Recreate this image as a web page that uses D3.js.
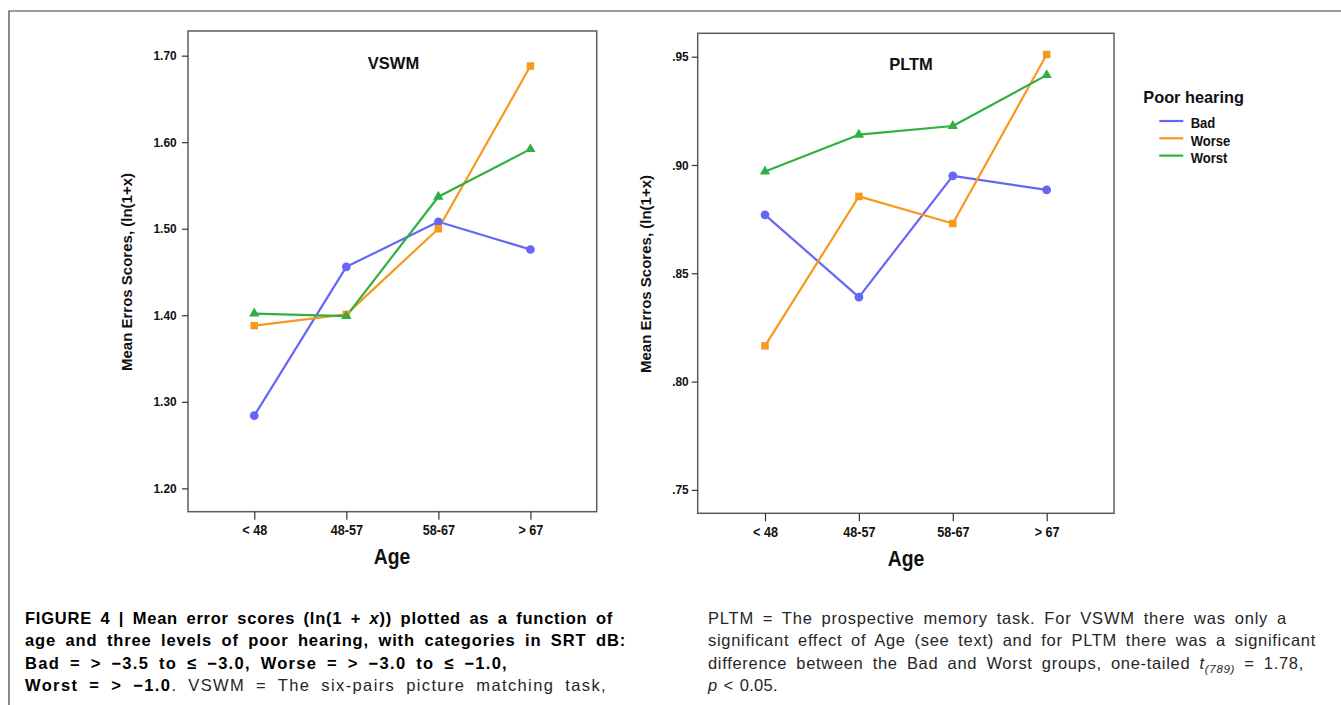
<!DOCTYPE html>
<html><head><meta charset="utf-8">
<script src="https://cdn.jsdelivr.net/npm/d3@7"></script>
<style>
body{margin:0;background:#fff}
svg{display:block}
text{font-family:"Liberation Sans",Arial,Helvetica,sans-serif}
</style>
</head><body>
<script>
// ---------- data ----------
const ageGroups = ["< 48", "48-57", "58-67", "> 67"];
const hearingGroups = ["Bad", "Worse", "Worst"];
const groupColors = ["#6666f6", "#f7981f", "#30b040"];
const groupSymbols = ["circle", "square", "triangle"];

const vswmBad   = [1.284, 1.456, 1.508, 1.476];
const vswmWorse = [1.388, 1.401, 1.500, 1.688];
const vswmWorst = [1.402, 1.399, 1.537, 1.592];

const pltmBad   = [0.877, 0.839, 0.895, 0.8885];
const pltmWorse = [0.8165, 0.8855, 0.873, 0.951];
const pltmWorst = [0.897, 0.914, 0.918, 0.9415];

const vswmTicks = [1.20, 1.30, 1.40, 1.50, 1.60, 1.70];
const pltmTicks = [0.75, 0.80, 0.85, 0.90, 0.95];

const yAxisTitle = "Mean Erros Scores, (ln(1+x)";
const xAxisTitle = "Age";
const legendTitle = "Poor hearing";

// ---------- page ----------
const W = 1341, H = 705;
const svg = d3.select("body").append("svg").attr("width", W).attr("height", H);

// outer figure border (top + left)
svg.append("path").attr("d", `M9,${H}V11H${W}`).attr("fill", "none")
  .attr("stroke", "#3a3a3a").attr("stroke-width", 1.2);

const symMap = {circle: d3.symbolCircle, square: d3.symbolSquare, triangle: d3.symbolTriangle};
const symSize = {circle: 60, square: 56, triangle: 46};

function ctext(g, x, y, str, o) {
  return g.append("text")
    .attr("transform", `translate(${x},${y}) scale(${o.sx || 1},1)`)
    .attr("text-anchor", o.anchor || "middle")
    .style("font-size", o.size + "px")
    .style("font-weight", o.weight || "bold")
    .attr("fill", o.fill || "#111")
    .text(str);
}

function panel(cfg) {
  const g = svg.append("g");
  const x = d3.scalePoint().domain(ageGroups).range(cfg.xRange).padding(cfg.pad);
  const y = d3.scaleLinear().domain(cfg.yDomain).range(cfg.yRange);
  const [x0, x1] = cfg.xRange, [y0, y1] = cfg.yRange;

  // frame
  g.append("rect").attr("x", x0).attr("y", y1).attr("width", x1 - x0).attr("height", y0 - y1)
    .attr("fill", "#fff").attr("stroke", "#5c5c5c").attr("stroke-width", 1.5);

  // y axis
  const ya = g.append("g").attr("transform", `translate(${x0},0)`)
    .call(d3.axisLeft(y).tickValues(cfg.ticks).tickFormat(cfg.fmt).tickSize(6).tickPadding(cfg.yPad));
  ya.select(".domain").remove();
  ya.selectAll(".tick line").attr("stroke", "#333").attr("stroke-width", 1.2);
  ya.selectAll(".tick text").style("font-size", "12.5px").style("font-weight", "bold")
    .style("font-family", '"Liberation Sans",Arial,sans-serif').attr("fill", "#111")
    .attr("transform", "scale(0.95,1)");

  // x axis
  const xa = g.append("g").attr("transform", `translate(0,${y0})`)
    .call(d3.axisBottom(x).tickSize(8).tickPadding(5));
  xa.select(".domain").remove();
  xa.selectAll(".tick line").attr("stroke", "#333").attr("stroke-width", 1.2);
  xa.selectAll(".tick text").style("font-size", "14.5px").style("font-weight", "bold")
    .style("font-family", '"Liberation Sans",Arial,sans-serif').attr("fill", "#111")
    .attr("transform", "scale(0.87,1)");

  // series
  const line = d3.line().x((d, i) => x(ageGroups[i])).y(d => y(d));
  cfg.series.forEach((vals, k) => {
    g.append("path").datum(vals).attr("d", line).attr("fill", "none")
      .attr("stroke", groupColors[k]).attr("stroke-width", 2.2).attr("stroke-linejoin", "round");
  });
  cfg.series.forEach((vals, k) => {
    const s = groupSymbols[k];
    g.selectAll(null).data(vals).join("path")
      .attr("transform", (d, i) => `translate(${x(ageGroups[i])},${y(d)})`)
      .attr("d", d3.symbol(symMap[s], symSize[s])())
      .attr("fill", groupColors[k]);
  });

  // titles
  ctext(g, cfg.titlePos[0], cfg.titlePos[1], cfg.title, {size: 16.5});
  ctext(g, cfg.agePos[0], cfg.agePos[1], xAxisTitle, {size: 21.5, sx: 0.9});
  g.append("text")
    .attr("transform", `translate(${cfg.yLabPos[0]},${cfg.yLabPos[1]}) rotate(-90)`)
    .attr("text-anchor", "middle").style("font-size", "15px").style("font-weight", "bold")
    .attr("fill", "#111").text(yAxisTitle);
}

const fmtL = d3.format(".2f");
const fmtR = v => d3.format(".2f")(v).replace(/^0/, "");

panel({
  xRange: [188, 596.7], pad: 0.72, yDomain: [1.1730, 1.7285], yRange: [511.7, 31],
  ticks: vswmTicks, fmt: fmtL, yPad: 6,
  series: [vswmBad, vswmWorse, vswmWorst],
  title: "VSWM", titlePos: [393.5, 68.5], agePos: [392, 564], yLabPos: [131.5, 272]
});
panel({
  xRange: [697.7, 1114], pad: 0.717, yDomain: [0.7392, 0.9608], yRange: [513.3, 33.3],
  ticks: pltmTicks, fmt: fmtR, yPad: 3.5,
  series: [pltmBad, pltmWorse, pltmWorst],
  title: "PLTM", titlePos: [911, 70], agePos: [906, 566], yLabPos: [651, 274]
});

// legend
const lg = svg.append("g");
ctext(lg, 1143.3, 103.3, legendTitle, {size: 17, anchor: "start", sx: 0.96});
hearingGroups.forEach((name, k) => {
  const yy = 121 + k * 17.3;
  lg.append("line").attr("x1", 1159.3).attr("x2", 1183.3).attr("y1", yy).attr("y2", yy)
    .attr("stroke", groupColors[k]).attr("stroke-width", 2.2);
  ctext(lg, 1190.7, yy + 7.3, name, {size: 14.5, anchor: "start", sx: 0.9});
});

// ---------- caption ----------
const captionLeft = [
  [{t: "FIGURE 4 | Mean error scores (ln(1 + ", b: 1}, {t: "x", b: 1, i: 1}, {t: ")) plotted as a function of", b: 1}],
  [{t: "age and three levels of poor hearing, with categories in SRT dB:", b: 1}],
  [{t: "Bad = > \u22123.5 to \u2264 \u22123.0, Worse = > \u22123.0 to \u2264 \u22121.0,", b: 1}],
  [{t: "Worst = > \u22121.0", b: 1}, {t: ". VSWM = The six-pairs picture matching task,"}]
];
const captionLeftWidths = [588, 601, 483, 582];
const captionRight = [
  [{t: "PLTM = The prospective memory task. For VSWM there was only a"}],
  [{t: "significant effect of Age (see text) and for PLTM there was a significant"}],
  [{t: "difference between the Bad and Worst groups, one-tailed "}, {t: "t", i: 1}, {t: "(789)", i: 1, sub: 1}, {t: " = 1.78,"}],
  [{t: "p", i: 1}, {t: " < 0.05."}]
];
const captionRightWidths = [579, 608, 596, 70];
const captionBaselines = [623.5, 646, 668.5, 691];

function caption(lines, widths, x0) {
  lines.forEach((segs, li) => {
    const t = svg.append("text").attr("x", x0).attr("y", captionBaselines[li])
      .style("font-size", "16.5px");
    segs.forEach((s, si) => {
      const ts = t.append("tspan").text(s.t)
        .style("font-weight", s.b ? "bold" : "normal")
        .style("font-style", s.i ? "italic" : "normal")
        .attr("fill", s.b ? "#000" : "#262626");
      if (s.sub) ts.style("font-size", "11.5px").attr("dy", 4);
      else if (si > 0 && segs[si - 1].sub) ts.attr("dy", -4);
    });
    // justify: measure natural width, spread the remainder between words and letters
    const str = t.node().textContent;
    const nat = t.node().getComputedTextLength();
    const extra = widths[li] - nat;
    const spaces = (str.match(/ /g) || []).length;
    if (extra > 0 && spaces > 0) {
      const ws = Math.min(extra * 0.45 / spaces, 5);
      t.style("word-spacing", ws + "px");
      const after = t.node().getComputedTextLength();
      const rem = widths[li] - after;
      if (rem > 0) t.style("letter-spacing", (rem / str.length) + "px");
    }
  });
}
caption(captionLeft, captionLeftWidths, 25);
caption(captionRight, captionRightWidths, 708);
</script>
</body></html>
